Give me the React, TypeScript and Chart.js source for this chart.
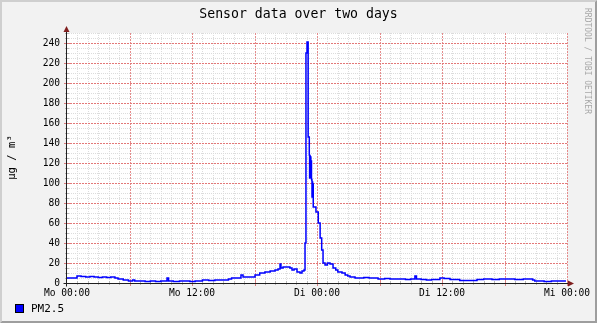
import React, { useEffect, useRef } from "react";
import { Chart, registerables } from "chart.js";

Chart.register(...registerables);

const TITLE = "Sensor data over two days";
const Y_UNIT = "µg / m³";
const SERIES_LABEL = "PM2.5";
const WATERMARK = "RRDTOOL / TOBI OETIKER";
const X_TICK_LABELS = ["Mo 00:00", "Mo 12:00", "Di 00:00", "Di 12:00", "Mi 00:00"];
const Y_TICKS = [0, 20, 40, 60, 80, 100, 120, 140, 160, 180, 200, 220, 240];
const Y_MAX = 250;
const X_MAX_HOURS = 48;

// hours since Mo 00:00 (start of each step)
const hours = [
  0, 0.5, 0.96, 1.35, 1.8, 2.2, 2.6, 3.0, 3.4, 3.8, 4.2, 4.6, 4.9, 5.4, 5.9, 6.3, 6.5, 7.0, 7.5, 8.0,
  8.5, 9.0, 9.6, 9.75, 10.2, 10.8, 11.3, 11.8, 12.3, 13.0, 13.6, 14.2, 14.8, 15.5, 15.8, 16.2, 16.7,
  16.9, 17.3, 17.6, 18.05, 18.5, 19.0, 19.5, 19.97, 20.26, 20.45, 20.54, 20.74, 21.4, 21.6, 21.8,
  22.08, 22.37, 22.56, 22.75, 22.85, 22.94, 23.04, 23.15, 23.26, 23.29, 23.32, 23.35, 23.38, 23.41,
  23.44, 23.47, 23.49, 23.52, 23.55, 23.58, 23.61, 23.64, 23.9, 24.12, 24.3, 24.45, 24.58, 24.77,
  25.0, 25.25, 25.54, 25.8, 26.0, 26.4, 26.7, 26.95, 27.17, 27.65, 28.5, 29.0, 29.86, 30.5, 31.0,
  31.8, 32.5, 33.0, 33.4, 33.55, 34.0, 34.5, 35.0, 35.8, 36.2, 36.77, 37.7, 38.4, 39.36, 40.0, 40.8,
  41.5, 42.3, 43.0, 43.8, 44.7, 44.9, 45.8, 46.5, 47.2, 47.9,
];

// PM2.5 in µg/m³
const pm25 = [
  5, 5, 7, 6.5, 6, 6.5, 6, 5.5, 6, 5.5, 6, 5, 4, 3, 2, 3, 2, 2, 1.5, 2,
  1.5, 2, 5, 2, 1.5, 2, 2, 1.5, 2, 3, 2.5, 3, 3, 4, 5, 5, 8,
  6, 6, 6, 8, 10, 11, 12, 13, 14, 19, 15, 16, 15, 13, 14,
  11, 10, 12, 13, 40, 230, 241, 146, 128, 105, 127, 106, 126, 108,
  122, 104, 103, 86, 101, 87, 99, 76, 71, 60, 45, 33, 20, 18,
  20, 19, 15, 13, 11, 10, 8, 7, 6, 5, 5.5, 5, 4, 4.5, 4,
  4, 3.5, 4, 7, 4, 3.5, 3, 3.5, 5, 4.5, 3.5, 2.5, 2.5, 3.5, 4, 3.5,
  4, 4, 3.5, 4, 3, 2, 1.5, 2, 2, 2,
];

const MONO = "'DejaVu Sans Mono', monospace";
const GRID_COLOR = "#dcdcdc";
const MGRID_COLOR = "#e48c8c";
const AXIS_COLOR = "#1f1f1f";
const ARROW_COLOR = "#801f1f";
const LINE_COLOR = "#0000ff";

const rrdPlugin = {
  id: "rrdLook",
  beforeDraw(chart: any) {
    const { ctx, width, height, chartArea } = chart;
    ctx.save();
    ctx.fillStyle = "#f2f2f2";
    ctx.fillRect(0, 0, width, height);
    ctx.fillStyle = "#cfcfcf";
    ctx.beginPath();
    ctx.moveTo(0, 0);
    ctx.lineTo(width, 0);
    ctx.lineTo(width - 2, 2);
    ctx.lineTo(2, 2);
    ctx.lineTo(2, height - 2);
    ctx.lineTo(0, height);
    ctx.closePath();
    ctx.fill();
    ctx.fillStyle = "#9e9e9e";
    ctx.beginPath();
    ctx.moveTo(width, height);
    ctx.lineTo(width, 0);
    ctx.lineTo(width - 2, 2);
    ctx.lineTo(width - 2, height - 2);
    ctx.lineTo(2, height - 2);
    ctx.lineTo(0, height);
    ctx.closePath();
    ctx.fill();
    ctx.fillStyle = "#ffffff";
    ctx.fillRect(chartArea.left, chartArea.top, chartArea.right - chartArea.left, chartArea.bottom - chartArea.top);
    ctx.restore();
  },
  beforeDatasetsDraw(chart: any) {
    const { ctx, chartArea, scales } = chart;
    const xs = scales.x;
    const ys = scales.y;
    const top = chartArea.top;
    const bottom = chartArea.bottom;
    const left = chartArea.left;
    const right = chartArea.right;
    ctx.save();
    ctx.lineWidth = 1;

    // minor grid
    ctx.strokeStyle = GRID_COLOR;
    ctx.setLineDash([1, 1]);
    ctx.beginPath();
    for (let h = 1; h <= X_MAX_HOURS; h++) {
      if (h % 6 === 0) continue;
      const px = Math.round(xs.getPixelForValue(h)) + 0.5;
      ctx.moveTo(px, top);
      ctx.lineTo(px, bottom);
    }
    for (let v = 5; v <= Y_MAX; v += 5) {
      if (v % 20 === 0) continue;
      const py = Math.round(ys.getPixelForValue(v)) + 0.5;
      ctx.moveTo(left, py);
      ctx.lineTo(right, py);
    }
    ctx.stroke();

    // major grid, vertical
    ctx.strokeStyle = MGRID_COLOR;
    ctx.setLineDash([2, 1]);
    ctx.beginPath();
    for (let h = 6; h <= X_MAX_HOURS; h += 6) {
      const px = Math.round(xs.getPixelForValue(h)) + 0.5;
      ctx.moveTo(px, top);
      ctx.lineTo(px, bottom);
    }
    ctx.stroke();

    // major grid, horizontal
    ctx.strokeStyle = "#e27878";
    ctx.setLineDash([2, 1]);
    ctx.beginPath();
    for (let v = 20; v <= Y_MAX; v += 20) {
      const py = Math.round(ys.getPixelForValue(v)) + 0.5;
      ctx.moveTo(left, py);
      ctx.lineTo(right, py);
    }
    ctx.stroke();

    // tick marks
    ctx.setLineDash([]);
    ctx.strokeStyle = "#b8b8b8";
    ctx.beginPath();
    for (let h = 1; h <= X_MAX_HOURS; h++) {
      if (h % 6 === 0) continue;
      const px = Math.round(xs.getPixelForValue(h)) + 0.5;
      ctx.moveTo(px, bottom - 2);
      ctx.lineTo(px, bottom + 2);
    }
    for (let v = 5; v <= Y_MAX; v += 5) {
      if (v % 20 === 0) continue;
      const py = Math.round(ys.getPixelForValue(v)) + 0.5;
      ctx.moveTo(left - 2, py);
      ctx.lineTo(left + 2, py);
    }
    ctx.stroke();
    ctx.strokeStyle = "#d88080";
    ctx.beginPath();
    for (let h = 6; h <= X_MAX_HOURS; h += 6) {
      const px = Math.round(xs.getPixelForValue(h)) + 0.5;
      ctx.moveTo(px, bottom - 3);
      ctx.lineTo(px, bottom + 3);
    }
    for (let v = 20; v <= Y_MAX; v += 20) {
      const py = Math.round(ys.getPixelForValue(v)) + 0.5;
      ctx.moveTo(left - 3, py);
      ctx.lineTo(left + 3, py);
    }
    ctx.stroke();
    ctx.restore();
  },
  afterDatasetsDraw(chart: any) {
    const { ctx, chartArea } = chart;
    const left = Math.round(chartArea.left) - 0.5;
    const bottom = Math.round(chartArea.bottom) + 0.5;
    const right = chartArea.right;
    const top = chartArea.top;
    ctx.save();
    ctx.strokeStyle = AXIS_COLOR;
    ctx.lineWidth = 1;
    ctx.beginPath();
    ctx.moveTo(left - 3, bottom);
    ctx.lineTo(right + 2, bottom);
    ctx.moveTo(left, bottom + 3);
    ctx.lineTo(left, top - 2);
    ctx.stroke();
    ctx.fillStyle = ARROW_COLOR;
    ctx.beginPath();
    ctx.moveTo(right + 1, bottom - 3);
    ctx.lineTo(right + 1, bottom + 3);
    ctx.lineTo(right + 7, bottom);
    ctx.closePath();
    ctx.fill();
    ctx.beginPath();
    ctx.moveTo(left - 3, top - 1);
    ctx.lineTo(left + 3, top - 1);
    ctx.lineTo(left, top - 7);
    ctx.closePath();
    ctx.fill();
    ctx.restore();
  },
  afterDraw(chart: any) {
    const { ctx, width } = chart;
    ctx.save();
    ctx.fillStyle = "#000";
    ctx.font = "13.2px " + MONO;
    ctx.textAlign = "center";
    ctx.textBaseline = "alphabetic";
    ctx.fillText(TITLE, width / 2, 18);
    ctx.save();
    ctx.translate(12, 157.5);
    ctx.rotate(-Math.PI / 2);
    ctx.font = "10.6px " + MONO;
    ctx.textAlign = "center";
    ctx.textBaseline = "middle";
    ctx.fillText(Y_UNIT, 0, 0);
    ctx.restore();
    ctx.save();
    ctx.translate(587.5, 61);
    ctx.rotate(Math.PI / 2);
    ctx.font = "8px " + MONO;
    ctx.fillStyle = "#a8a8a8";
    ctx.textAlign = "center";
    ctx.textBaseline = "middle";
    ctx.fillText(WATERMARK, 0, 0);
    ctx.restore();
    ctx.fillStyle = LINE_COLOR;
    ctx.fillRect(15, 304, 9, 9);
    ctx.strokeStyle = "#000";
    ctx.lineWidth = 1;
    ctx.strokeRect(15.5, 304.5, 8, 8);
    ctx.fillStyle = "#000";
    ctx.font = "11px " + MONO;
    ctx.textAlign = "left";
    ctx.textBaseline = "middle";
    ctx.fillText(SERIES_LABEL, 31, 309);
    ctx.restore();
  },
};

export default function App() {
  const ref = useRef<HTMLCanvasElement | null>(null);
  useEffect(() => {
    document.body.style.margin = "0";
    const canvas = ref.current;
    if (!canvas) return;
    const points = hours.map((h, i) => ({ x: h, y: pm25[i] }));
    const chart = new Chart(canvas, {
      type: "line",
      data: {
        datasets: [
          {
            label: SERIES_LABEL,
            data: points,
            borderColor: LINE_COLOR,
            backgroundColor: LINE_COLOR,
            borderWidth: 1.5,
            pointRadius: 0,
            stepped: true,
            tension: 0,
            fill: false,
          },
        ],
      },
      options: {
        animation: false,
        responsive: false,
        devicePixelRatio: 1,
        layout: { padding: { left: 8, right: 30, top: 33, bottom: 24 } },
        plugins: {
          legend: { display: false },
          title: { display: false },
          tooltip: { enabled: false },
        },
        scales: {
          x: {
            type: "linear",
            min: 0,
            max: X_MAX_HOURS,
            grid: { display: false, drawTicks: false },
            border: { display: false },
            ticks: {
              stepSize: 12,
              autoSkip: false,
              maxRotation: 0,
              padding: 5,
              color: "#000",
              font: { family: MONO, size: 9.6 },
              callback: (v: any) => X_TICK_LABELS[Math.round(Number(v) / 12)] ?? "",
            },
            afterFit: (s: any) => {
              s.height = 16;
            },
          },
          y: {
            type: "linear",
            min: 0,
            max: Y_MAX,
            grid: { display: false, drawTicks: false },
            border: { display: false },
            ticks: {
              padding: 7,
              color: "#000",
              font: { family: MONO, size: 9.6 },
            },
            afterBuildTicks: (s: any) => {
              s.ticks = Y_TICKS.map((v) => ({ value: v }));
            },
            afterFit: (s: any) => {
              s.width = 59;
            },
          },
        },
      },
      plugins: [rrdPlugin],
    });
    return () => chart.destroy();
  }, []);
  return <canvas ref={ref} width={597} height={323} style={{ display: "block" }} />;
}
